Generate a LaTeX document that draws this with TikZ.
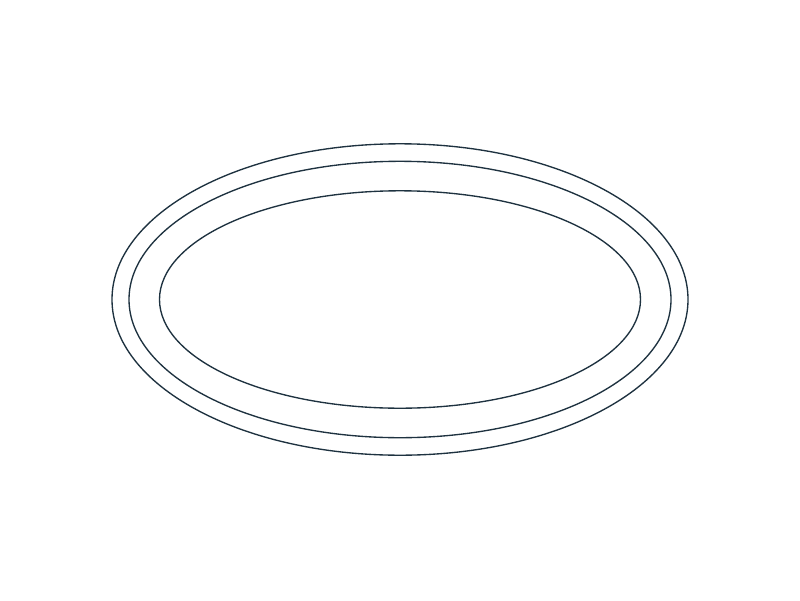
\documentclass[tikz,border=0pt]{standalone}
\definecolor{ringc}{HTML}{1E3240}
\begin{document}
\begin{tikzpicture}[x=1pt,y=-1pt,ring/.style={draw=ringc,line width=1.35pt}]
\useasboundingbox (0,0) rectangle (800,600);
\fill[white] (0,0) rectangle (800,600);
\coordinate (c) at (400,299.5);
\draw[ring] (c) ellipse [x radius=288, y radius=155.7];
\draw[ring] (c) ellipse [x radius=271, y radius=138.2];
\draw[ring] (c) ellipse [x radius=240.5, y radius=108.7];
\end{tikzpicture}
\end{document}
